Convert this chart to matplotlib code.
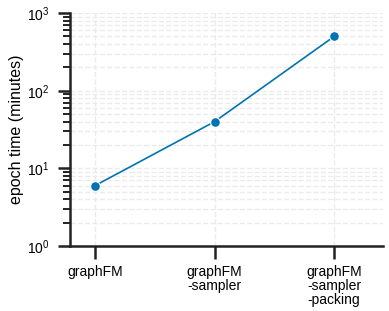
import matplotlib.pyplot as plt

plt.rcParams['font.family'] = ['Liberation Sans', 'DejaVu Sans']

labels = ["graphFM", "graphFM\n-sampler", "graphFM\n-sampler\n-packing"]
epoch_time = [6, 40, 500]

fig = plt.figure(figsize=(3.89, 3.11), dpi=100)
ax = fig.add_axes([0.18, 0.209, 0.805, 0.749])

ax.plot(range(len(labels)), epoch_time, color="#0173B2", lw=1.2, marker="o", ms=7,
        mec="white", mew=0.8, zorder=3)
ax.set_yscale("log")
ax.set_ylim(1, 1000)
ax.set_xlim(-0.21, 2.41)
ax.set_xticks(range(len(labels)))
ax.set_xticklabels(labels, fontsize=9.5, linespacing=1.0)
ax.set_ylabel("epoch time (minutes)", fontsize=11.5, labelpad=2)

ax.grid(True, which="both", ls="--", color="#ebebeb", lw=1, zorder=0)
for s in ["top", "right"]:
    ax.spines[s].set_visible(False)
for s in ["left", "bottom"]:
    ax.spines[s].set_linewidth(1.8)
    ax.spines[s].set_color("#222222")
ax.tick_params(which="major", length=9, width=1.8, color="#222222", labelsize=10, pad=6)
ax.tick_params(which="minor", length=5, width=1.4, color="#222222")
ax.tick_params(axis="x", pad=5)

fig.savefig("out.png", dpi=100)
